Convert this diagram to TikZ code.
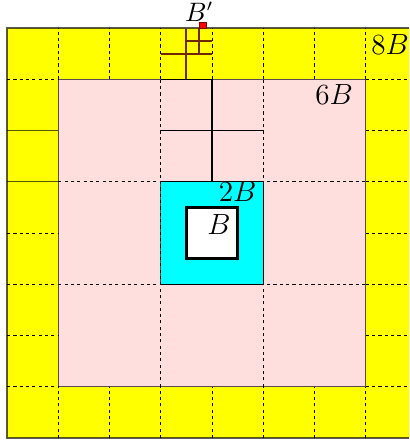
\documentclass[tikz,border=0pt]{standalone}
\usepackage{tikz}
\definecolor{ringyellow}{rgb}{1,1,0}
\definecolor{softpink}{RGB}{255,222,222}
\definecolor{boxcyan}{rgb}{0,1,1}
\definecolor{subbrown}{RGB}{112,40,0}
\begin{document}
\begin{tikzpicture}[x=0.74cm,y=0.74cm,
  every node/.style={font=\fontsize{11.5}{14}\selectfont},
  gridline/.style={black, dash pattern=on 1.3pt off 1.3pt, line width=0.4pt},
  border/.style={draw=black, draw opacity=0.65, line width=0.5pt},
  solidline/.style={black, line width=0.45pt},
  brownline/.style={subbrown, line width=0.8pt},
  lbl/.style={anchor=base, inner sep=0pt}]
\useasboundingbox (-4.137,-4.078) rectangle (3.844,4.546);
\clip (-4.137,-4.078) rectangle (3.844,4.546);
% fills
\fill[ringyellow] (-4,-4) rectangle (4,4);
\fill[softpink] (-3,-3) rectangle (3,3);
\fill[boxcyan] (-1,-1) rectangle (1,1);
\fill[white] (-0.5,-0.5) rectangle (0.5,0.5);
% ring grid (dashed)
\foreach \t in {-3,-2,-1,0,1,2,3} {
  \draw[gridline] (\t,3) -- (\t,4);
  \draw[gridline] (\t,-4) -- (\t,-3);
  \draw[gridline] (3,\t) -- (4,\t);
}
\foreach \t in {-3,-2,-1,0,3} {
  \draw[gridline] (-4,\t) -- (-3,\t);
}
\draw[border] (-4,1) -- (-3,1);
\draw[border] (-4,2) -- (-3,2);
% pink grid (dashed)
\foreach \t in {-1,1} {
  \draw[gridline] (\t,-3) -- (\t,3);
  \draw[gridline] (-3,\t) -- (3,\t);
}
% borders
\draw[border] (-4,-4) rectangle (4,4);
\draw[border] (-3,-3) rectangle (3,3);
\draw[solidline] (-1,1) -- (1,1) (1,1) -- (1,-1) -- (-1,-1);
\draw[border] (-1,-1) -- (-1,1);
\draw[black, line width=1pt] (-0.5,-0.5) rectangle (0.5,0.5);
% subdivision
\draw[solidline] (0,1) -- (0,3);
\draw[solidline] (-1,2) -- (1,2);
\draw[solidline] (-1,3) -- (0,3);
\draw[brownline] (-0.5,3) -- (-0.5,4);
\draw[brownline] (-1,3.5) -- (0,3.5);
\draw[brownline] (-0.25,3.5) -- (-0.25,4);
\draw[brownline] (-0.5,3.75) -- (0,3.75);
\draw[fill=red, draw=red!50!black, line width=0.4pt] (-0.25,3.99) rectangle (-0.11,4.115);
% labels
\node[lbl, font=\fontsize{10.5}{13}\selectfont] (bprime) at (-0.25,4.125) {$B'$};
\node[lbl] (eightb) at (3.473,3.473) {$8B$};
\node[lbl] (sixb) at (2.38,2.50) {$6B$};
\node[lbl] (twob) at (0.498,0.61) {$2B$};
\node[lbl] (oneb) at (0.137,-0.02) {$B$};
\end{tikzpicture}
\end{document}
